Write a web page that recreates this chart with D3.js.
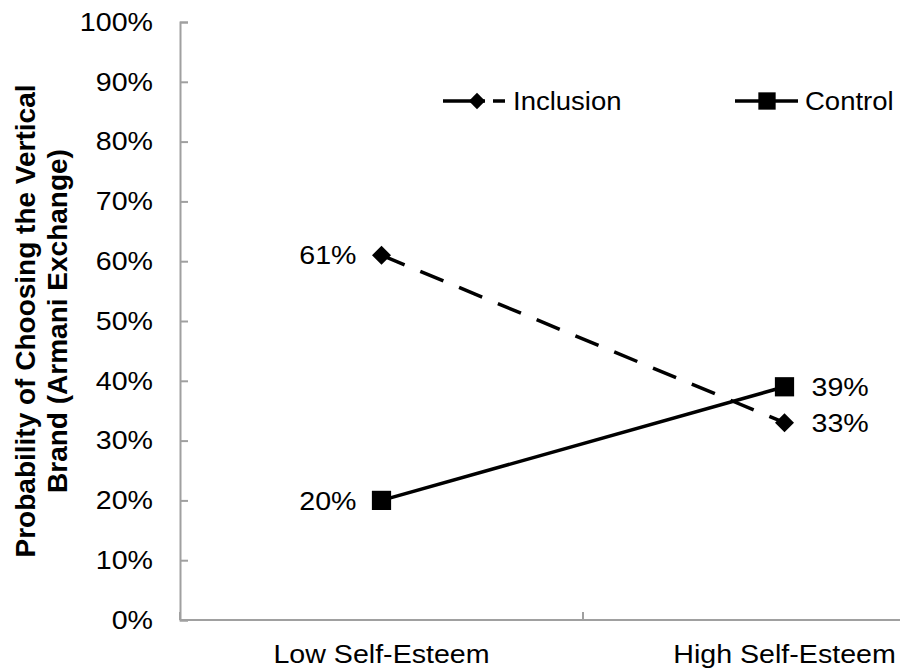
<!DOCTYPE html>
<html>
<head>
<meta charset="utf-8">
<script src="https://cdn.jsdelivr.net/npm/d3@7/dist/d3.min.js"></script>
<style>
  html, body { margin: 0; padding: 0; background: #fff; }
  svg { display: block; font-family: Arial, "Liberation Sans", sans-serif; }
</style>
</head>
<body>
<svg id="chart" width="900" height="671"></svg>
<script>
// Categories and series values (probability of choosing the vertical brand)
const categories = ["Low Self-Esteem", "High Self-Esteem"];
const inclusion = [0.61, 0.33];
const control = [0.20, 0.39];
const yTicks = [0, 0.1, 0.2, 0.3, 0.4, 0.5, 0.6, 0.7, 0.8, 0.9, 1.0];
const seriesNames = ["Inclusion", "Control"];
const yTitle = ["Probability of Choosing the Vertical", "Brand (Armani Exchange)"];

const svg = d3.select("#chart");
const plotLeft = 180, plotRight = 986, plotTop = 22, plotBottom = 620;

const x = d3.scaleBand().domain(categories).range([plotLeft, plotRight]).padding(0);
const y = d3.scaleLinear().domain([0, 1]).range([plotBottom, plotTop]);
const cx = c => x(c) + x.bandwidth() / 2;
const fmt = d3.format(".0%");
const axisColor = "#a0a0a0";
const fontSize = 26;
const stretch = 1.1;   // text is set slightly wide

// place a text element at (px,py) with the horizontal stretch applied
const at = (px, py) => `translate(${px},${py}) scale(${stretch},1)`;

// Y axis: inward ticks, labels on the left
const yAxis = svg.append("g").attr("transform", `translate(${plotLeft},0)`)
  .call(d3.axisRight(y).tickValues(yTicks).tickFormat(fmt).tickSize(8).tickPadding(0));
yAxis.select(".domain").attr("stroke", axisColor).attr("stroke-width", 2);
yAxis.selectAll(".tick line").attr("stroke", axisColor).attr("stroke-width", 2);
yAxis.selectAll(".tick text").attr("x", 0).attr("transform", at(-27, 0)).attr("text-anchor", "end")
  .attr("font-size", fontSize).attr("fill", "#000");

// X axis: category boundary ticks pointing up, labels centred under categories
const xg = svg.append("g");
xg.append("line").attr("x1", plotLeft).attr("x2", plotRight).attr("y1", plotBottom).attr("y2", plotBottom)
  .attr("stroke", axisColor).attr("stroke-width", 2);
const bounds = categories.map(c => x(c)).concat([plotRight]);
xg.selectAll("line.tk").data(bounds).join("line").attr("class", "tk")
  .attr("x1", d => d).attr("x2", d => d).attr("y1", plotBottom).attr("y2", plotBottom - 8)
  .attr("stroke", axisColor).attr("stroke-width", 2);
xg.selectAll("text").data(categories).join("text")
  .attr("transform", d => at(cx(d), 663)).attr("text-anchor", "middle")
  .attr("font-size", fontSize).attr("fill", "#000").text(d => d);

// Y axis title: two rotated lines centred on the plot area
const yt = svg.append("text")
  .attr("transform", `translate(0,${(plotTop + plotBottom) / 2}) rotate(-90)`)
  .attr("text-anchor", "middle").attr("font-weight", "bold").attr("font-size", 28).attr("fill", "#000");
yt.selectAll("tspan").data(yTitle).join("tspan")
  .attr("x", 0).attr("y", (d, i) => (i === 0 ? 35 : 67)).text(d => d);

const line = d3.line().x(d => cx(d.c)).y(d => y(d.v));
const incData = categories.map((c, i) => ({ c, v: inclusion[i] }));
const ctlData = categories.map((c, i) => ({ c, v: control[i] }));

// Series lines
svg.append("path").datum(incData).attr("d", line).attr("fill", "none")
  .attr("stroke", "#000").attr("stroke-width", 3.5).attr("stroke-dasharray", "25,17");
svg.append("path").datum(ctlData).attr("d", line).attr("fill", "none")
  .attr("stroke", "#000").attr("stroke-width", 3.5);

// Markers
const diamond = d3.symbol().type(d3.symbolDiamond2).size(230);
const square = d3.symbol().type(d3.symbolSquare).size(370);
svg.selectAll("path.inc").data(incData).join("path").attr("class", "inc")
  .attr("transform", d => `translate(${cx(d.c)},${y(d.v)})`).attr("d", diamond).attr("fill", "#000");
svg.selectAll("path.ctl").data(ctlData).join("path").attr("class", "ctl")
  .attr("transform", d => `translate(${cx(d.c)},${y(d.v)})`).attr("d", square).attr("fill", "#000");

// Value labels: left of the low-esteem points, right of the high-esteem points
function labelFor(d, i) {
  return i === 0 ? { x: cx(d.c) - 25, anchor: "end" } : { x: cx(d.c) + 27, anchor: "start" };
}
[incData, ctlData].forEach(data => {
  svg.append("g").selectAll("text").data(data).join("text")
    .attr("transform", (d, i) => at(labelFor(d, i).x, y(d.v))).attr("dy", "0.35em")
    .attr("text-anchor", (d, i) => labelFor(d, i).anchor)
    .attr("font-size", fontSize).attr("fill", "#000").text(d => fmt(d.v));
});

// Legend
const legendDiamond = d3.symbol().type(d3.symbolDiamond2).size(170);
const legendSquare = d3.symbol().type(d3.symbolSquare).size(300);
const lg = svg.append("g").attr("transform", "translate(0,101)");
const legendItems = [
  { name: seriesNames[0], x0: 443, dash: "42,8,12", sym: legendDiamond, mx: 34 },
  { name: seriesNames[1], x0: 735, dash: null, sym: legendSquare, mx: 32 }
];
legendItems.forEach(it => {
  lg.append("line").attr("x1", it.x0).attr("x2", it.x0 + 63).attr("y1", 0).attr("y2", 0)
    .attr("stroke", "#000").attr("stroke-width", 3.5).attr("stroke-dasharray", it.dash);
  lg.append("path").attr("transform", `translate(${it.x0 + it.mx},0)`)
    .attr("d", it.sym).attr("fill", "#000");
  lg.append("text").attr("transform", at(it.x0 + 70, 0)).attr("dy", "0.35em")
    .attr("font-size", 25).attr("fill", "#000").text(it.name);
});
</script>
</body>
</html>
